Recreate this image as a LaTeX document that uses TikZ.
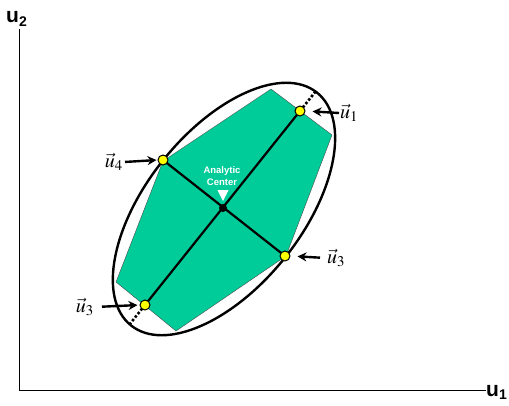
\documentclass[tikz,border=0pt]{standalone}
\usepackage{mathptmx}
\usepackage[no-math]{fontspec}
\setsansfont{Liberation Sans}
\usetikzlibrary{arrows.meta}
\definecolor{polyteal}{RGB}{0,204,153}
\definecolor{dotyellow}{RGB}{255,255,0}
\pgfdeclarelayer{back}
\pgfdeclarelayer{mid}
\pgfsetlayers{back,mid,main}
\begin{document}
\begin{tikzpicture}[x=1pt,y=-1pt,
  dot/.style={circle,draw=black,line width=1pt,fill=dotyellow,inner sep=0pt,minimum size=10pt},
  cdot/.style={circle,fill=black,inner sep=0pt,minimum size=8pt},
  lbl/.style={inner sep=1pt,font=\fontsize{20}{22}\selectfont},
  arr/.style={line width=2.4pt,-{Stealth[length=9pt,width=9pt]}},
  axislbl/.style={inner sep=0pt,font=\sffamily\bfseries\fontsize{21}{21}\selectfont},
  thick2/.style={line width=2.2pt},
  ext/.style={line width=2.6pt,dash pattern=on 2.5pt off 2pt}]
\useasboundingbox (0,0) rectangle (509,405);
% axes
\coordinate (ytop) at (19,29);
\coordinate (o) at (19,390);
\coordinate (xend) at (486,390);
\draw[line width=0.9pt] (ytop) -- (o) -- (xend);
\node[axislbl,anchor=west] (ax2) at (6,19) {u\raisebox{-4pt}{\fontsize{14}{14}\selectfont 2}};
\node[axislbl,anchor=west] (ax1) at (486,392) {u\raisebox{-3pt}{\fontsize{14}{14}\selectfont 1}};
% points
\node[dot] (d1) at (300,111) {};
\node[dot] (d4) at (163,160) {};
\node[dot] (d3r) at (285,256) {};
\node[dot] (d3b) at (145,305) {};
\node[cdot] (c) at (223,208) {};
\coordinate (e) at (224,209);
\coordinate (t1) at (315.6,91.5);
\coordinate (t3) at (129.6,324.3);
\begin{pgfonlayer}{back}
\fill[polyteal,draw=black!70,line width=0.4pt] (271,89) -- (332,135) -- (286,256) -- (176,331) -- (116,282) -- (163,161) -- cycle;
\end{pgfonlayer}
\begin{pgfonlayer}{mid}
\draw[line width=2.4pt, rotate around={51.4:(e)}] (e) ellipse [x radius=149, y radius=78];
\draw[thick2] (d1.center) -- (d3b.center);
\draw[thick2] (d4.center) -- (d3r.center);
\draw[ext] (d1.center) -- (t1);
\draw[ext] (d3b.center) -- (t3);
\end{pgfonlayer}
% analytic center
\node[text=white,align=center,inner sep=0pt,font=\sffamily\bfseries\fontsize{9.5}{11.5}\selectfont] (ac) at (222,176) {Analytic\\Center};
\fill[white] (217.5,190) -- (228.5,190) -- (223,201) -- cycle;
% labels and arrows
\node[lbl,anchor=west] (l1) at (339,113) {$\vec{u}_1$};
\node[lbl,anchor=west] (l3r) at (326,258) {$\vec{u}_3$};
\node[lbl,anchor=east] (l4) at (124,162) {$\vec{u}_4$};
\node[lbl,anchor=east] (l3b) at (95,307) {$\vec{u}_3$};
\draw[arr,shorten >=7pt] (l1.west) -- (d1.east);
\draw[arr,shorten <=6pt,shorten >=7pt] (l3r.west) -- (d3r.east);
\draw[arr,shorten <=1pt,shorten >=1pt] (l4.east) -- (d4.west);
\draw[arr,shorten <=7pt,shorten >=2pt] (l3b.east) -- (d3b.west);
\end{tikzpicture}
\end{document}
